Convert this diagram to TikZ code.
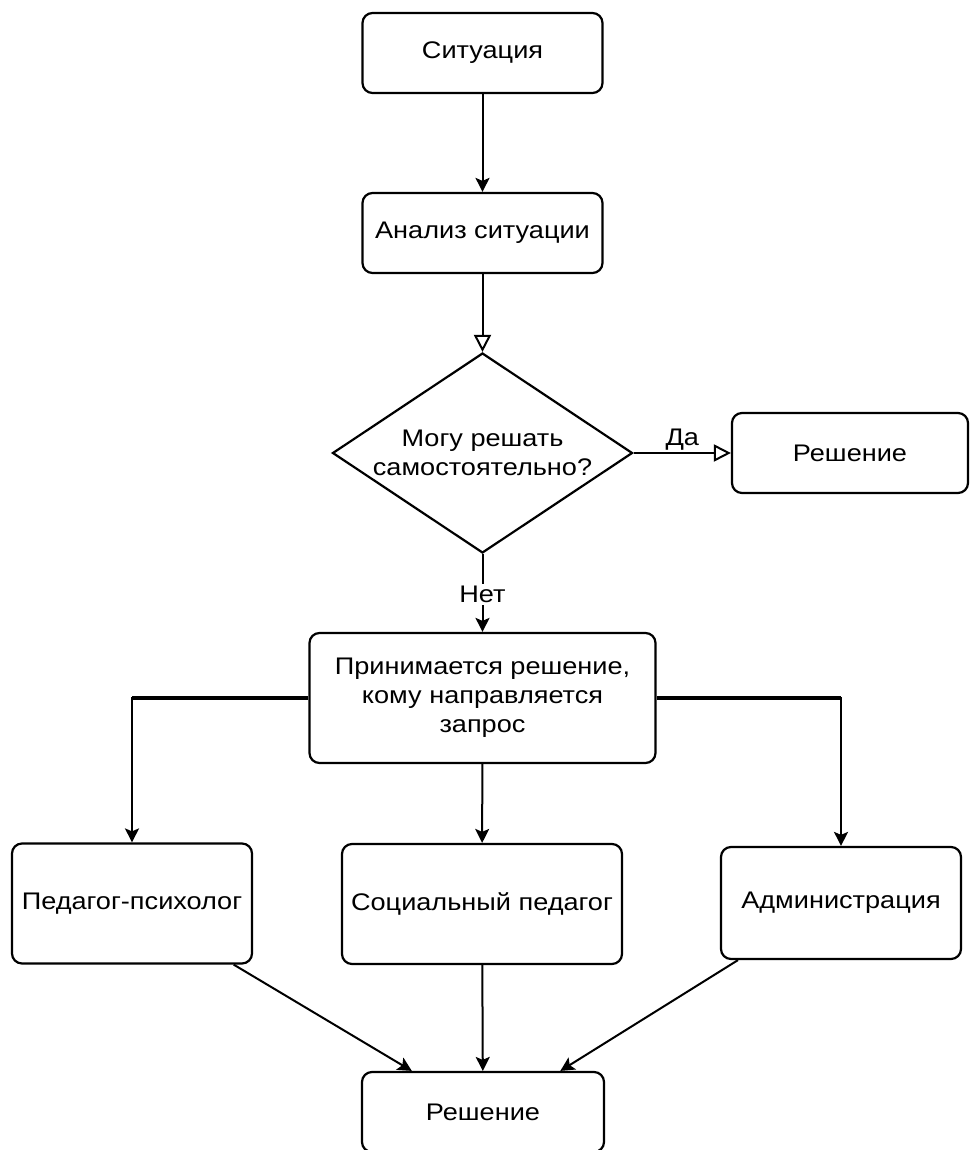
\documentclass[tikz,border=0pt]{standalone}
\usepackage{fontspec}
\setmainfont{Liberation Sans}[FakeStretch=1.13]
\usetikzlibrary{arrows.meta,shapes.geometric}
\begin{document}
\begin{tikzpicture}[x=1pt,y=-1pt,
  txt/.style={font=\fontsize{24}{29}\selectfont},
  box/.style={draw, line width=2.2pt, rounded corners=10pt, inner sep=0pt, align=center, txt},
  conn/.style={line width=2pt, -{Stealth[length=14pt,width=14pt,inset=3pt]}},
  openconn/.style={line width=2pt, -{Triangle[open,length=17pt,width=17pt,line width=2pt]}},
  lbl/.style={txt, inner sep=2pt}]
\useasboundingbox (0,0) rectangle (969,1150);

\node[box, minimum width=240pt, minimum height=80pt] (sit) at (482.5,53) {Ситуация};
\node[box, minimum width=240pt, minimum height=80pt] (anal) at (482.5,233) {Анализ ситуации};
\node[draw, diamond, line width=2.2pt, minimum width=300pt, minimum height=200pt, inner sep=0pt] (dec) at (482.5,453) {};
\node[lbl, align=center] (dectext) at (dec) {Могу решать\\самостоятельно?};
\node[box, minimum width=236pt, minimum height=80pt] (yes) at (850,453) {Решение};
\node[box, minimum width=346pt, minimum height=130pt] (prin) at (482.5,698) {Принимается решение,\\кому направляется\\запрос};
\node[box, minimum width=240pt, minimum height=120pt] (ped) at (132,903.5) {Педагог-психолог};
\node[box, minimum width=280pt, minimum height=120pt] (soc) at (482,904) {Социальный педагог};
\node[box, minimum width=240pt, minimum height=112pt] (adm) at (841,903) {Администрация};
\node[box, minimum width=242pt, minimum height=80pt] (fin) at (483,1112) {Решение};

\draw[conn] (sit) -- (anal);
\draw[openconn] (anal) -- (dec);
\draw[openconn] (dec) -- node[lbl, above] (da) {Да} (yes);
\draw[conn] (dec) -- node[lbl, fill=white, pos=0.52] (net) {Нет} (prin);
\draw[conn] (prin.west) -| (ped.north);
\draw[conn] (prin.east) -| (adm.north);
\draw[line width=3.5pt] (prin.west) -- (ped.north |- prin.west);
\draw[line width=3.5pt] (prin.east) -- (adm.north |- prin.east);
\draw[conn] (prin) -- (soc);
\draw[conn] (ped.-31) -- (fin.150);
\draw[conn] (soc) -- (fin);
\draw[conn] (adm.209.5) -- (fin.28.7);
\end{tikzpicture}
\end{document}
